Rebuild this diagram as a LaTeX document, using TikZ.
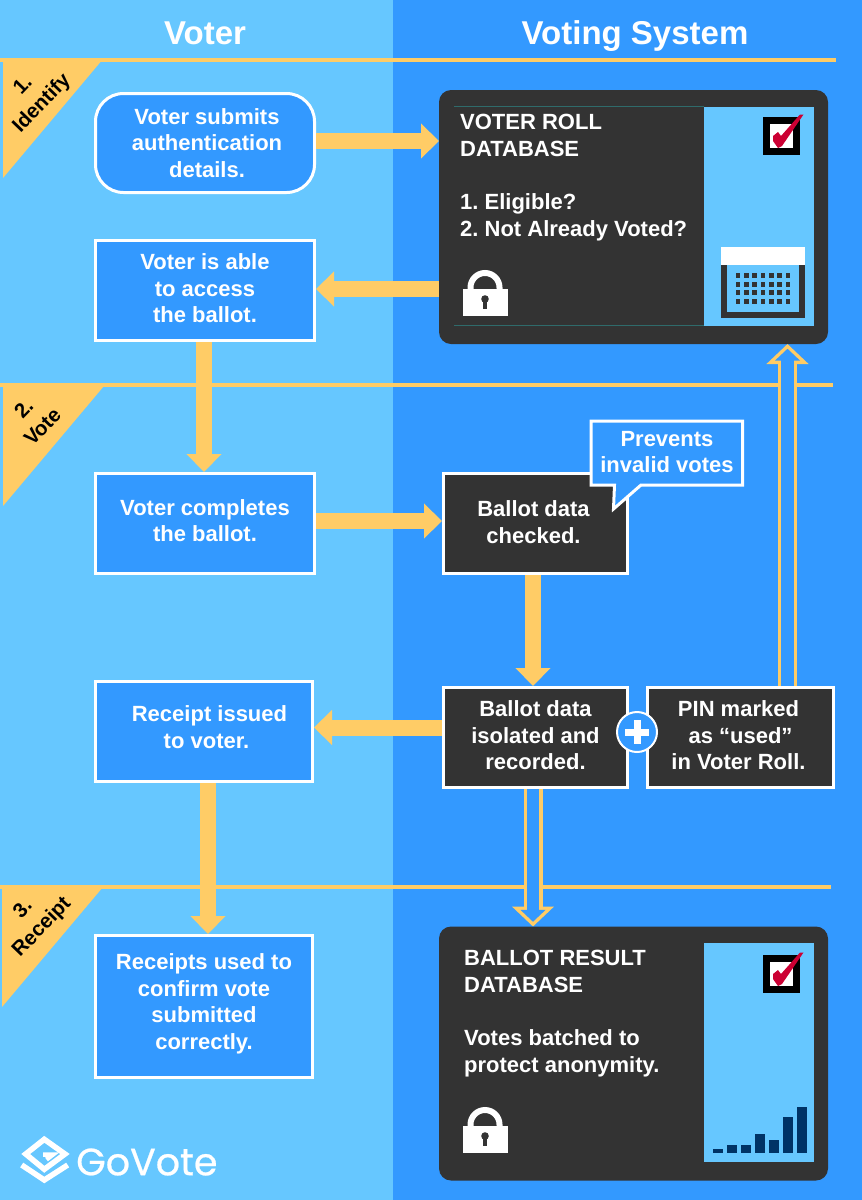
\documentclass[tikz,border=0pt]{standalone}
\usepackage{fontspec}
\setmainfont{Liberation Sans}
\newfontfamily\logofont[FakeBold=0.6]{Poppins}
\usetikzlibrary{arrows.meta,positioning,calc}

\definecolor{voterblue}{HTML}{66C7FF}
\definecolor{systemblue}{HTML}{3399FF}
\definecolor{ribbongold}{HTML}{FFCC66}
\definecolor{boxdark}{HTML}{333333}
\definecolor{tealline}{HTML}{2F6B6B}
\definecolor{barnavy}{HTML}{003366}
\definecolor{tickred}{HTML}{CC0033}

\newcommand{\lift}[1]{\rule[-#1]{0pt}{#1}}

\tikzset{
  boxtext/.style={text=white, font=\bfseries\fontsize{22}{26.5}\selectfont, align=center},
  stepbox/.style={boxtext, draw=white, line width=3pt, fill=systemblue, minimum width=219pt, minimum height=100pt},
  darkbox/.style={boxtext, draw=white, line width=3pt, fill=boxdark, minimum width=184pt, minimum height=100pt},
  dbbox/.style={fill=boxdark, rounded corners=12pt, minimum width=389pt, minimum height=254pt, outer sep=0pt},
  dbtext/.style={boxtext, align=left, anchor=north west, inner sep=0pt},
  heading/.style={text=white, anchor=base, font=\bfseries\fontsize{33}{36}\selectfont},
  ribbon/.style={fill=ribbongold},
  ribbontext/.style={font=\bfseries\fontsize{20.5}{26}\selectfont, align=center, rotate=46},
  rule/.style={ribbongold, line width=3.5pt},
  fatarrow/.style={ribbongold, line width=16pt, -{Triangle[length=18pt,width=34pt]}},
  hollowarrow/.style={preaction={draw=ribbongold, line width=19pt, shorten >=0pt, -{Triangle[length=20pt,width=41pt]}},
    draw=systemblue, line width=12.5pt, shorten >=4.75pt, -{Triangle[length=11.85pt,width=24.3pt]}},
  pics/lockicon/.style={code={
    \draw[white, line width=6pt] (-14.5,19) -- (-14.5,17.5) arc[start angle=180, end angle=360, radius=14.5] -- (14.5,19);
    \fill[white] (-22.5,19) rectangle (22.5,46);
    \fill[boxdark] (0,29) circle (3.8pt);
    \fill[boxdark] (-1.7,29) rectangle (1.7,39);
  }},
  pics/checkicon/.style={code={
    \fill[black] (0,0) rectangle (37,38);
    \fill[white] (7,7) rectangle (30,31);
    \fill[tickred] (10,19) -- (15,15) -- (18,19) -- (37,-2.5) -- (40.5,-2.5) -- (19,29) -- (15,31) -- (10,24) -- cycle;
  }},
}

\begin{document}
\frenchspacing
\begin{tikzpicture}[x=1pt, y=-1pt]
\useasboundingbox (0,0) rectangle (862,1200);
% backgrounds
\fill[voterblue] (0,0) rectangle (393,1200);
\fill[systemblue] (393,0) rectangle (862,1200);
\node[heading] (voter) at (205,44) {Voter};
\node[heading] (system) at (635,44) {Voting System};

% rules and ribbons
\draw[rule] (0,60) -- (836,60);
\draw[rule] (0,385) -- (833,385);
\draw[rule] (0,887) -- (831,887);
\fill[ribbon] (3,59) -- (103,59) -- (3,178) -- cycle;
\fill[ribbon] (3,386) -- (104,386) -- (3,506) -- cycle;
\fill[ribbon] (2,887) -- (103,887) -- (2,1007) -- cycle;
\node[ribbontext] (identify) at (33,95) {1.\\Identify};
\node[ribbontext] (vote) at (33,417.5) {2.\\Vote};
\node[ribbontext] (receipt) at (33,918.5) {3.\\Receipt};

% voter column
\node[stepbox, rounded corners=28pt, minimum height=99pt] (submit) at (205,143) {\hspace*{4pt}Voter submits\\\hspace*{4pt}authentication\\\hspace*{4pt}details.};
\node[stepbox, below of=submit, node distance=147.5pt] (access) {Voter is able\\to access\\the ballot.\lift{4pt}};
\node[stepbox, below of=access, node distance=233pt] (complete) {Voter completes\\the ballot.\lift{6pt}};
\node[stepbox, below of=complete, node distance=208pt, xshift=-1pt, minimum width=217pt] (issued) {\hspace*{11pt}Receipt issued\\\hspace*{5pt}to voter.\lift{9pt}};
\node[stepbox, below of=issued, node distance=275pt, minimum width=217pt, minimum height=142pt] (confirm) {Receipts used to\\confirm vote\\submitted\\correctly.\lift{9.5pt}};

% system column
\node[dbbox] (roll) at (633.5,217) {};
\node[darkbox, right of=complete, node distance=330.5pt] (checked) {Ballot data\hspace*{4pt}\\checked.\hspace*{4pt}\lift{3pt}};
\node[darkbox, below of=checked, node distance=214pt] (isolated) {Ballot data\\isolated and\\recorded.\lift{4pt}};
\node[darkbox, right of=isolated, node distance=205pt, minimum width=186pt] (pinmark) {PIN marked\hspace*{4pt}\\as “used”\hspace*{4pt}\\in Voter Roll.\hspace*{4pt}\lift{4pt}};
\node[dbbox] (result) at (633.5,1053.5) {};

% callout
\draw[white, line width=3pt, fill=systemblue, miter limit=20] (591,421) -- (742.5,421) -- (742.5,485) -- (641,485) -- (613.5,509) -- (614.5,485) -- (591,485) -- cycle;
\node[boxtext] (prevents) at (667,452) {Prevents\\invalid votes};

% plus badge
\node[circle, draw=white, line width=2pt, fill=systemblue, minimum size=40pt, inner sep=0pt] (plus) at (637,732) {};
\fill[white] (625,728.5) rectangle (649,735.5);
\fill[white] (633.5,720) rectangle (640.5,744);

% connectors
\draw[fatarrow] ([yshift=2pt]submit.east) -- ([yshift=2pt]submit.east -| roll.west);
\draw[fatarrow] ([yshift=1.5pt]access.east -| roll.west) -- ([yshift=1.5pt]access.east);
\draw[fatarrow] ([xshift=-1pt]access.south) -- ([xshift=-1pt]access.south |- complete.north);
\draw[fatarrow] ([yshift=2.5pt]complete.east) -- ([yshift=2.5pt]complete.east -| checked.west);
\draw[fatarrow] ([xshift=-2.5pt]checked.south) -- ([xshift=-2.5pt]checked.south |- isolated.north);
\draw[fatarrow] ([yshift=10pt]isolated.west) -- ([yshift=10pt]isolated.west -| issued.east);
\draw[fatarrow] ([xshift=4pt]issued.south) -- ([xshift=4pt]issued.south |- confirm.north);
\draw[hollowarrow] ([xshift=-2.5pt]isolated.south) -- ([xshift=-2.5pt]isolated.south |- result.north);
\draw[hollowarrow] ([xshift=47pt]pinmark.north) -- ([xshift=47pt]pinmark.north |- roll.south);

% voter roll database
\draw[tealline] (454,106.5) -- (704,106.5);
\draw[tealline] (454,325.5) -- (704,325.5);
\fill[voterblue] (704,106.5) rectangle (814,325.5);
\node[dbtext] (rolltext) at (460,114) {VOTER ROLL\\DATABASE\\[27pt]1. Eligible?\\2. Not Already Voted?};
\pic at (485,270) {lockicon};
\pic at (763,117) {checkicon};
% ballot box
\fill[white] (721,247) rectangle (805,265);
\fill[boxdark] (721,265) rectangle (805,318);
\fill[voterblue] (727,265) rectangle (799,312);
\foreach \col in {0,...,6}
  \foreach \row/\top in {0/273,1/281.5,2/290,3/299}
    \fill[boxdark] (735.5+\col*8.35,\top) rectangle ++(4.8,5.2);

% ballot result database
\fill[voterblue] (704,943) rectangle (814,1162);
\node[dbtext] (resulttext) at (464,950) {BALLOT RESULT\\DATABASE\\[27pt]Votes batched to\\protect anonymity.};
\pic at (485,1107) {lockicon};
\pic at (763,955) {checkicon};
% bars
\foreach \xbar/\top in {713/1149,727/1145,741/1144.5,755/1133.5,769/1140,783/1117,797/1107}
  \fill[barnavy] (\xbar,\top) rectangle ++(10.3,1153-\top);

% logo
\draw[white, line width=5.5pt, miter limit=10] (25.7,1154) -- (44.3,1139.3) -- (65,1154) -- (44.3,1169.3) -- cycle;
\draw[white, line width=4.5pt] (43,1154.5) -- (53,1154.5) -- (46.5,1159.5);
\draw[white, line width=5.5pt] (21.7,1165) -- (44.3,1180) -- (67.7,1165);
\node[text=white, font=\logofont\fontsize{38}{40}\selectfont, anchor=west, inner sep=0pt] (govote) at (76,1162) {GoVote};
\end{tikzpicture}
\end{document}
